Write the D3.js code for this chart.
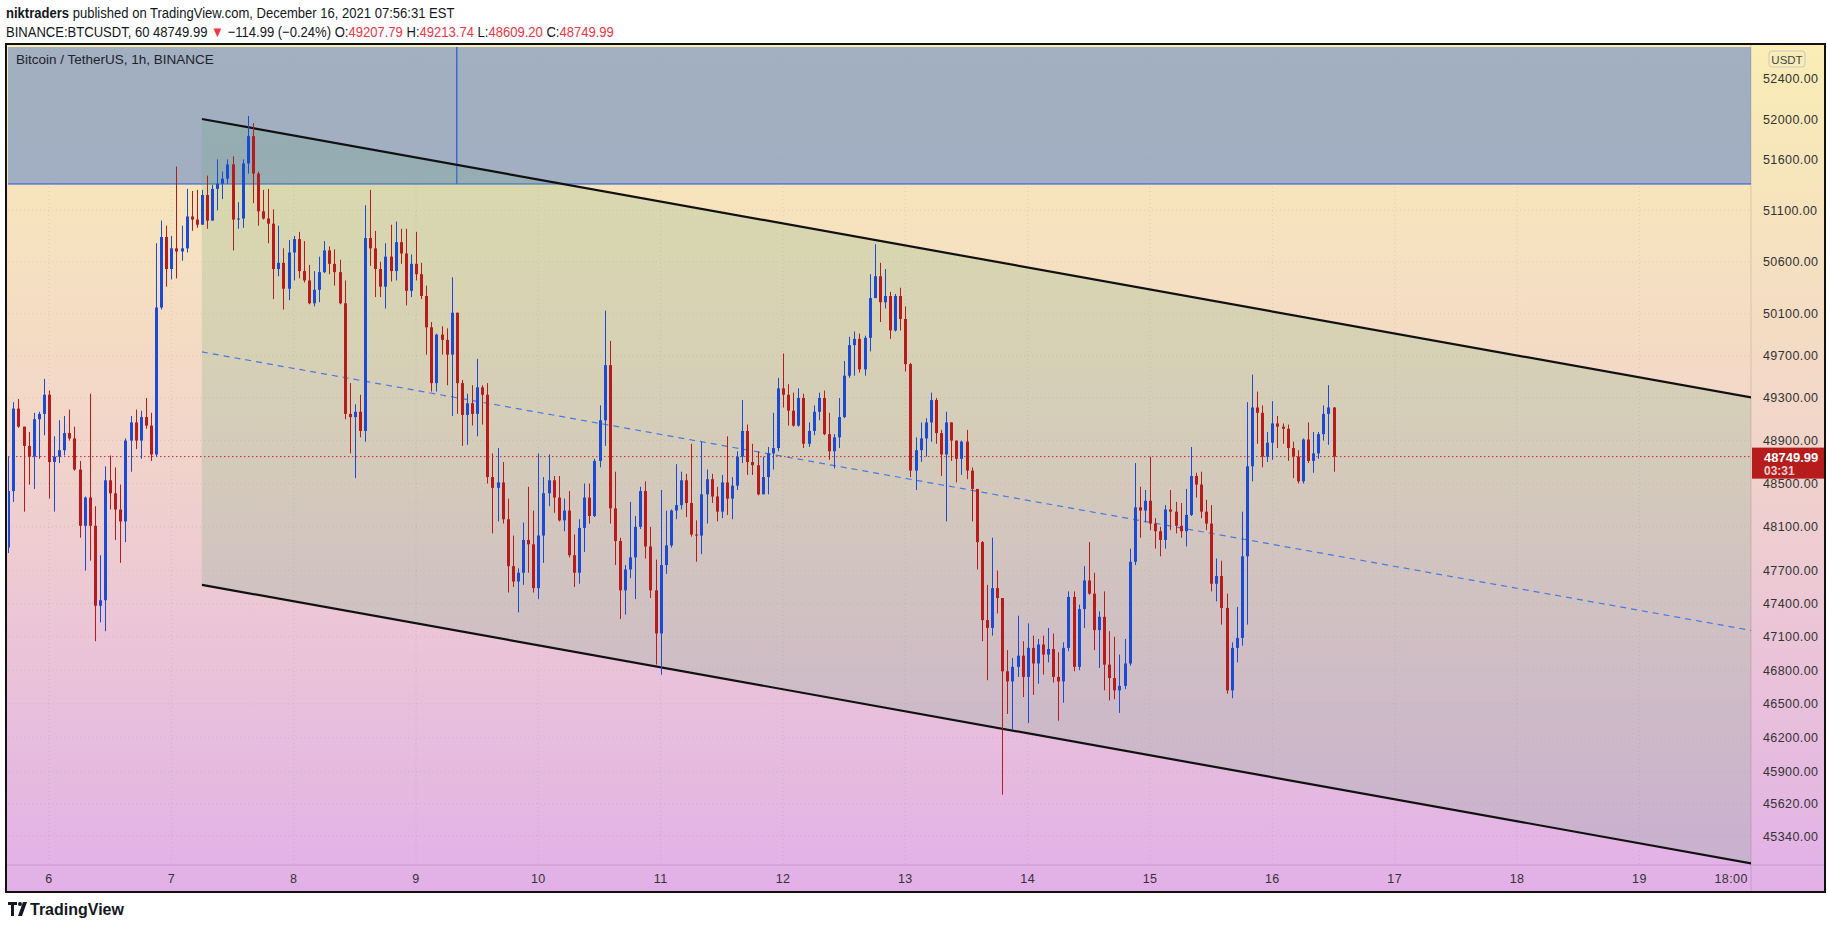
<!DOCTYPE html>
<html>
<head>
<meta charset="utf-8">
<style>
  body { margin: 0; background: #fff; }
  svg { display: block; font-family: "Liberation Sans", Arial, sans-serif; }
  .hdr { font-size: 15px; fill: #131722; }
  .red { fill: #f23645; }
  .ax { font-size: 12.5px; fill: #333; letter-spacing: 0.4px; }
</style>
<script src="https://cdn.jsdelivr.net/npm/d3@7"></script>
</head>
<body>
<svg id="chart" width="1828" height="929"></svg>
<script>
// hourly BTCUSDT candles, first bar Dec 5 2021 16:00 UTC
var firstOpen = 47910;
var closes = [
  48430,49200,49030,48850,48750,49100,49150,49330,48700,48750,48810,48970,48920,48630,48110,48370,48110,47380,47430,48530,48410,48260,48150,48900,49070,48900,49120,49040,48770,50160,50840,50530,50730,50700,50730,51040,51010,50960,51250,51000,51310,51360,51410,51550,51010,51020,
  51560,51830,51460,51090,51020,50970,50530,50590,50340,50690,50820,50510,50420,50200,50330,50500,50710,50580,50500,50200,49150,49120,49170,48990,50830,50730,50530,50360,50650,50510,50790,50680,50320,50580,50480,50270,49970,49440,49900,49850,49710,50110,49440,49140,49250,
  49150,49400,49330,48560,48460,48510,48170,47740,47600,47680,47980,47940,47540,48020,48410,48530,48370,48160,48250,47840,47680,48090,48370,48200,48710,49090,49610,48270,47970,47520,47710,47820,48100,48430,47920,47520,47130,47750,47930,48250,48300,48530,48320,48030,48020,
  48400,48540,48380,48240,48510,48360,48480,48750,48990,48700,48670,48400,48560,48780,48830,49390,49330,49180,49040,49300,48870,48990,49170,49300,48960,48800,48930,49120,49510,49800,49860,49570,49870,50250,50460,50210,50270,49940,50270,50050,49620,48620,48810,48920,49070,49280,48970,48770,49070,48900,48730,48890,48620,48450,47960,47250,47180,47540,47450,46790,46700,46830,46930,
  46740,47000,46860,47030,46940,46990,46740,46700,47000,47460,46830,47350,47610,47490,47160,47280,46850,46730,46620,46660,46860,47780,48280,48250,48340,48130,48060,47980,48260,48240,48110,48060,48210,48570,48490,48240,48130,47580,47650,47360,46620,47000,47090,47830,48660,49210,49160,48750,48880,49060,49030,49010,48830,48750,48520,48910,48710,48780,48960,49150,49210,48749.99
];
var highs = [
  48750,49260,49290,49030,48980,49160,49170,49480,49370,48940,49090,49130,49190,49030,48710,48380,49340,48290,47840,48660,48760,48650,48490,48920,49130,49190,49180,49300,49160,50780,51000,50950,50850,51530,50950,51310,51290,51300,51300,51440,51350,51600,51480,51600,51630,51180,
  51600,52030,51960,51480,51300,51310,51110,50950,50730,50810,50850,50890,50800,50570,50510,50650,50800,50750,50720,50620,50420,49440,49240,49330,51150,51300,50900,50600,50780,50960,50990,50920,50920,50670,50890,50590,50370,50020,49910,49980,49960,50450,50110,49470,49340,
  49420,49670,49420,49440,48780,48830,48700,48360,48020,47720,48140,48470,48250,48780,48560,48770,48570,48570,48360,48430,48030,48170,48500,48500,48730,49230,50130,49840,48610,48000,47750,48330,48200,48470,48520,48100,47800,48440,48250,48260,48680,48610,48590,48870,48160,
  48890,48630,48590,48470,48580,48940,48560,48800,49280,49050,48870,48800,48750,48840,49160,49490,49720,49430,49350,49390,49340,49070,49230,49350,49370,49160,48960,49300,49650,49880,49930,49910,49890,50480,50770,50590,50530,50310,50290,50350,50170,49630,48930,49070,49110,49350,49300,49000,49170,49030,48900,48900,49000,48650,48430,47970,47570,48000,47700,47450,46980,46910,47290,
  47060,47220,47110,47080,47110,47180,47130,46960,47050,47510,47510,47390,47740,47960,47680,47330,47510,47150,47100,46940,47080,47900,48690,48470,48440,48750,48180,48100,48300,48440,48330,48320,48450,48840,48600,48610,48350,48300,47810,47790,47490,47050,47370,48240,49260,49520,49360,49230,48980,49270,49130,49060,49050,48890,48810,48920,49070,48980,48980,49230,49420,49213.74
];
var lows = [
  47860,48330,49020,48240,48490,48450,48730,48950,48360,48240,48690,48760,48900,48620,48000,47700,47790,47060,47230,47150,48260,47980,47770,47960,48610,48820,48730,49010,48710,48750,50140,50360,50430,50440,50610,50690,50900,50930,50960,50920,51000,51100,51210,51360,50710,50920,
  50930,51460,51170,50950,51010,50780,50240,50460,50140,50230,50420,50440,50400,50190,50170,50210,50490,50480,50370,50190,49100,48780,48550,48930,48890,50560,50260,50260,50150,50410,50420,50580,50180,50260,50420,50240,49710,49360,49360,49710,49420,49130,49150,48850,48860,
  49040,48940,49050,48500,48040,48150,48130,47500,47550,47320,47570,47680,47500,47440,47770,48290,48230,48150,48060,47820,47550,47580,47870,48130,48190,48650,48850,48130,47750,47260,47300,47630,47440,48080,47810,47450,46850,46760,47670,47910,48170,48260,48190,48010,47780,
  47850,48130,48320,48150,48180,48210,48170,48440,48690,48580,48580,48390,48400,48400,48630,48800,49210,49040,49030,49030,48830,48840,48950,49090,48950,48720,48640,48830,49110,49490,49510,49540,49510,49740,50250,50020,50150,49860,49930,49940,49550,48560,48440,48700,48750,48890,48870,48570,48150,48710,48510,48580,48540,48150,47710,47060,46710,47110,47310,45700,46410,46270,46740,
  46560,46330,46580,46680,46760,46870,46690,46350,46510,46970,46790,46800,47180,47480,46980,46820,46620,46530,46540,46420,46630,46840,47750,48000,48140,48070,47900,47830,47900,48070,48040,48000,47920,48200,48370,48180,48070,47510,47420,47210,46590,46550,46870,47020,47210,48520,48870,48650,48700,48720,48830,48870,48710,48550,48500,48500,48690,48600,48730,48900,48860,48609.20
];
var priceTicks = [52400,52000,51600,51100,50600,50100,49700,49300,48900,48500,48100,47700,47400,47100,46800,46500,46200,45900,45620,45340];
var dayTicks = [6,7,8,9,10,11,12,13,14,15,16,17,18,19];
var lastPrice = 48749.99;

// drawings: channel anchors (time, price), resistance zone
var channelTop = [[Date.UTC(2021,11,7,6), 52000], [Date.UTC(2021,11,19,22,24), 49300]];
var channelBottom = [[Date.UTC(2021,11,7,6), 47570], [Date.UTC(2021,11,19,22,24), 45100]];
var zoneLow = 51358;
var zoneMark = Date.UTC(2021,11,9,8);

var svg = d3.select("#chart");
var frame = {l: 6, r: 1825, t: 44, b: 892};
var plot = {l: 8, r: 1751, t: 47, b: 865};

var x = d3.scaleUtc().domain([Date.UTC(2021,11,6), Date.UTC(2021,11,19)]).range([49, 1639.4]);
var y = d3.scaleLog().domain([52000, 45340]).range([119, 836]);

var defs = svg.append("defs");
var g = defs.append("linearGradient").attr("id", "bg").attr("x1", 0).attr("y1", 0).attr("x2", 0).attr("y2", 1);
g.append("stop").attr("offset", "0%").attr("stop-color", "#faedb5");
g.append("stop").attr("offset", "45%").attr("stop-color", "#f2d6c9");
g.append("stop").attr("offset", "100%").attr("stop-color", "#e2b0e8");
defs.append("clipPath").attr("id", "clip").append("rect")
  .attr("x", plot.l).attr("y", plot.t).attr("width", plot.r - plot.l).attr("height", plot.b - plot.t);

// header, narrow font in the original -> squeeze horizontally
var hg = svg.append("g").attr("transform", "translate(6,0) scale(0.87,1)");
var h1 = hg.append("text").attr("class", "hdr").attr("x", 0).attr("y", 18);
h1.append("tspan").attr("font-weight", "bold").text("niktraders");
h1.append("tspan").text(" published on TradingView.com, December 16, 2021 07:56:31 EST");
var h2 = hg.append("text").attr("class", "hdr").attr("x", 0).attr("y", 37);
h2.append("tspan").text("BINANCE:BTCUSDT, 60 48749.99 ");
h2.append("tspan").attr("class", "red").text("▼");
h2.append("tspan").text(" −114.99 (−0.24%) O:");
h2.append("tspan").attr("class", "red").text("49207.79");
h2.append("tspan").text(" H:");
h2.append("tspan").attr("class", "red").text("49213.74");
h2.append("tspan").text(" L:");
h2.append("tspan").attr("class", "red").text("48609.20");
h2.append("tspan").text(" C:");
h2.append("tspan").attr("class", "red").text("48749.99");

// background
svg.append("rect").attr("x", frame.l).attr("y", frame.t).attr("width", frame.r - frame.l).attr("height", frame.b - frame.t)
  .attr("fill", "url(#bg)");

var pl = svg.append("g").attr("clip-path", "url(#clip)");

// grid
pl.selectAll(".hg").data(priceTicks).enter().append("line")
  .attr("x1", plot.l).attr("x2", plot.r).attr("y1", d => y(d)).attr("y2", d => y(d))
  .attr("stroke", "rgba(120,120,120,0.18)").attr("stroke-dasharray", "1,3");
pl.selectAll(".vg").data(dayTicks).enter().append("line")
  .attr("x1", d => x(Date.UTC(2021,11,d))).attr("x2", d => x(Date.UTC(2021,11,d)))
  .attr("y1", plot.t).attr("y2", plot.b)
  .attr("stroke", "rgba(120,120,120,0.18)").attr("stroke-dasharray", "1,3");

// resistance zone
pl.append("rect").attr("x", plot.l).attr("y", plot.t).attr("width", plot.r - plot.l).attr("height", y(zoneLow) - plot.t)
  .attr("fill", "rgba(140,160,195,0.8)");
pl.append("line").attr("x1", plot.l).attr("x2", plot.r).attr("y1", y(zoneLow)).attr("y2", y(zoneLow))
  .attr("stroke", "#2457d6").attr("stroke-width", 1.2);
pl.append("line").attr("x1", x(zoneMark)).attr("x2", x(zoneMark)).attr("y1", plot.t).attr("y2", y(zoneLow))
  .attr("stroke", "#2457d6").attr("stroke-width", 1.2);

// channel
var pt = d => [x(d[0]), y(d[1])];
var poly = [pt(channelTop[0]), pt(channelTop[1]), pt(channelBottom[1]), pt(channelBottom[0])];
pl.append("path").attr("d", "M" + poly.join("L") + "Z").attr("fill", "rgba(100,170,120,0.2)");
var mid = channelTop.map((d, i) => [d[0], Math.sqrt(d[1] * channelBottom[i][1])]);
pl.append("line").attr("x1", pt(mid[0])[0]).attr("y1", pt(mid[0])[1]).attr("x2", pt(mid[1])[0]).attr("y2", pt(mid[1])[1])
  .attr("stroke", "#4a78e6").attr("stroke-width", 1.2).attr("stroke-dasharray", "6,5");
[channelTop, channelBottom].forEach(function(c) {
  pl.append("line").attr("x1", pt(c[0])[0]).attr("y1", pt(c[0])[1]).attr("x2", pt(c[1])[0]).attr("y2", pt(c[1])[1])
    .attr("stroke", "#111").attr("stroke-width", 2.2);
});

// last price line
pl.append("line").attr("x1", plot.l).attr("x2", plot.r).attr("y1", y(lastPrice)).attr("y2", y(lastPrice))
  .attr("stroke", "#c62828").attr("stroke-width", 1).attr("stroke-dasharray", "1.5,2.5");

// candles
var t0 = Date.UTC(2021,11,5,16);
var bars = closes.map(function(c, i) {
  var o = i === 0 ? firstOpen : closes[i - 1];
  return {t: t0 + i * 3600e3, o: o, c: c, h: Math.max(highs[i], o, c), l: Math.min(lows[i], o, c)};
});
var up = "#1a4bd2", down = "#b71c1c";
var cg = pl.append("g");
cg.selectAll(".wick").data(bars).enter().append("line")
  .attr("x1", d => Math.round(x(d.t)) + 0.5).attr("x2", d => Math.round(x(d.t)) + 0.5)
  .attr("y1", d => y(d.h)).attr("y2", d => y(d.l))
  .attr("stroke", d => d.c >= d.o ? up : down).attr("stroke-width", 1);
cg.selectAll(".body").data(bars).enter().append("rect")
  .attr("x", d => Math.round(x(d.t)) - 1).attr("width", 3)
  .attr("y", d => y(Math.max(d.o, d.c)))
  .attr("height", d => Math.max(1, Math.abs(y(d.o) - y(d.c))))
  .attr("fill", d => d.c >= d.o ? up : down);

// title
svg.append("text").attr("x", 16).attr("y", 64).attr("font-size", 13.5).attr("fill", "#1e222d")
  .text("Bitcoin / TetherUS, 1h, BINANCE");

// axes separators
svg.append("line").attr("x1", plot.r).attr("x2", plot.r).attr("y1", frame.t).attr("y2", frame.b)
  .attr("stroke", "rgba(0,0,0,0.12)");
svg.append("line").attr("x1", frame.l).attr("x2", frame.r).attr("y1", plot.b).attr("y2", plot.b)
  .attr("stroke", "rgba(0,0,0,0.12)");

// price axis labels
svg.selectAll(".pt").data(priceTicks).enter().append("text").attr("class", "ax")
  .attr("x", 1763).attr("y", d => y(d) + 4.5).text(d => d3.format(".2f")(d));
svg.append("rect").attr("x", 1769).attr("y", 51).attr("width", 36).attr("height", 16).attr("rx", 3)
  .attr("fill", "none").attr("stroke", "#c8c8c8");
svg.append("text").attr("x", 1787).attr("y", 63.5).attr("text-anchor", "middle").attr("font-size", 11.5)
  .attr("fill", "#444").text("USDT");

// last price tag
var ly = y(lastPrice);
svg.append("rect").attr("x", plot.r + 1).attr("y", ly - 9).attr("width", 72).attr("height", 31).attr("fill", "#b71c1c");
svg.append("text").attr("x", 1764).attr("y", ly + 5).attr("font-size", 13).attr("font-weight", "bold")
  .attr("fill", "#fff").text(d3.format(".2f")(lastPrice));
svg.append("text").attr("x", 1764).attr("y", ly + 18).attr("font-size", 12).attr("font-weight", "bold")
  .attr("fill", "#f2d0d0").text("03:31");

// time axis labels
svg.selectAll(".dt").data(dayTicks).enter().append("text").attr("class", "ax")
  .attr("x", d => x(Date.UTC(2021,11,d))).attr("y", 883).attr("text-anchor", "middle").text(d => d);
svg.append("text").attr("class", "ax").attr("x", x(Date.UTC(2021,11,19,18))).attr("y", 883)
  .attr("text-anchor", "middle").text("18:00");

// frame
svg.append("rect").attr("x", frame.l).attr("y", frame.t).attr("width", frame.r - frame.l).attr("height", frame.b - frame.t)
  .attr("fill", "none").attr("stroke", "#111").attr("stroke-width", 2);

// footer logo
var lg = svg.append("g").attr("transform", "translate(8,902)");
lg.append("path").attr("d", "M0,0H9V3H6V14H3V3H0Z").attr("fill", "#131722");
lg.append("circle").attr("cx", 12).attr("cy", 2).attr("r", 2).attr("fill", "#131722");
lg.append("path").attr("d", "M15,0H19L14,14H10Z").attr("fill", "#131722");
svg.append("text").attr("x", 30).attr("y", 915).attr("font-size", 16).attr("font-weight", "bold")
  .attr("fill", "#131722").text("TradingView");
</script>
</body>
</html>
